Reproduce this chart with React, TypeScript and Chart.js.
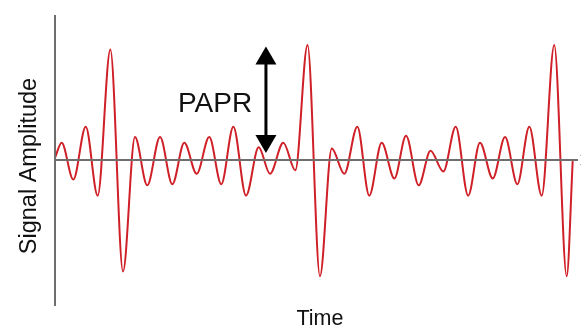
import React, { useEffect, useRef } from "react";
import { Chart, registerables } from "chart.js";

Chart.register(...registerables);

// Time positions of the waveform samples (arbitrary time units)
const timeValues: number[] = [
  0, 0.54, 1.49, 2.5, 3.47, 4.5, 5.53, 6.5, 7.5, 8.54, 9.54, 10.51, 11.52, 12.54,
  13.52, 14.5, 15.53, 16.56, 17.48, 18.56, 19.54, 20.53, 21.54, 22.5, 23.52, 24.58,
  25.55, 26.56, 27.59, 28.54, 29.57, 30.53, 31.57, 32.58, 33.59, 34.55, 35.59, 36.59,
  37.59, 38.56, 39.57, 40.59, 41.6, 42.09,
];

// Signal amplitude at those times (normalized, peak = 1)
const amplitudeValues: number[] = [
  0.02, 0.15, -0.17, 0.29, -0.31, 0.96, -0.97, 0.2, -0.22, 0.2, -0.21, 0.15, -0.12,
  0.2, -0.21, 0.29, -0.31, 0.11, -0.12, 0.15, -0.09, 1.0, -1.01, 0.1, -0.12, 0.29,
  -0.31, 0.15, -0.16, 0.21, -0.22, 0.08, -0.1, 0.29, -0.31, 0.15, -0.16, 0.2, -0.21,
  0.29, -0.31, 1.0, -1.01, -0.01,
];

const xAxisTitle = "Time";
const yAxisTitle = "Signal Amplitude";
const annotationLabel = "PAPR";

// Scale extents (data units)
const X_MIN = -4.4715;
const X_MAX = 42.764;
const Y_MIN = -1.4348;
const Y_MAX = 1.3913;

const W = 581;
const H = 325;

const decorPlugin = {
  id: "decor",
  afterDatasetsDraw(chart: any) {
    const ctx = chart.ctx as CanvasRenderingContext2D;
    const xs = chart.scales.x;
    const ys = chart.scales.y;
    const x0 = xs.getPixelForValue(0);
    const y0 = ys.getPixelForValue(0);
    ctx.save();
    // axes
    ctx.strokeStyle = "#6e6e6e";
    ctx.lineWidth = 2;
    ctx.beginPath();
    ctx.moveTo(x0, 15);
    ctx.lineTo(x0, 306);
    ctx.stroke();
    ctx.beginPath();
    ctx.moveTo(x0, y0);
    ctx.lineTo(578, y0);
    ctx.stroke();
    // tiny arrow head at right end (mostly off-canvas)
    ctx.lineWidth = 1;
    ctx.strokeStyle = "rgba(110,110,110,0.6)";
    ctx.beginPath();
    ctx.moveTo(586, y0);
    ctx.lineTo(580, y0 - 5);
    ctx.moveTo(586, y0);
    ctx.lineTo(580, y0 + 5);
    ctx.stroke();

    // PAPR double arrow
    const ax = xs.getPixelForValue(17.15);
    const topTip = ys.getPixelForValue(0.986);
    const botTip = ys.getPixelForValue(0.06);
    const headH = 18;
    const headW = 10.5;
    ctx.strokeStyle = "#000";
    ctx.fillStyle = "#000";
    ctx.lineWidth = 3;
    ctx.beginPath();
    ctx.moveTo(ax, topTip + headH - 2);
    ctx.lineTo(ax, botTip - headH + 2);
    ctx.stroke();
    ctx.beginPath();
    ctx.moveTo(ax, topTip);
    ctx.lineTo(ax - headW, topTip + headH);
    ctx.lineTo(ax + headW, topTip + headH);
    ctx.closePath();
    ctx.fill();
    ctx.beginPath();
    ctx.moveTo(ax, botTip);
    ctx.lineTo(ax - headW, botTip - headH);
    ctx.lineTo(ax + headW, botTip - headH);
    ctx.closePath();
    ctx.fill();

    // texts
    ctx.fillStyle = "#111";
    ctx.font = "28px 'Liberation Sans', Arial, sans-serif";
    ctx.textAlign = "left";
    ctx.textBaseline = "alphabetic";
    ctx.fillText(annotationLabel, 178, 111.5);

    ctx.font = "21.5px 'Liberation Sans', Arial, sans-serif";
    ctx.textAlign = "center";
    ctx.fillText(xAxisTitle, 320, 324.5);

    ctx.save();
    ctx.translate(36, 166);
    ctx.rotate(-Math.PI / 2);
    ctx.font = "23.5px 'Liberation Sans', Arial, sans-serif";
    ctx.textAlign = "center";
    ctx.fillText(yAxisTitle, 0, 0);
    ctx.restore();

    ctx.restore();
  },
};

export default function App() {
  const ref = useRef<HTMLCanvasElement | null>(null);
  useEffect(() => {
    if (!ref.current) return;
    const points = timeValues.map((t, i) => ({ x: t, y: amplitudeValues[i] }));
    const chart = new Chart(ref.current, {
      type: "line",
      data: {
        datasets: [
          {
            data: points,
            borderColor: "#cf1f27",
            borderWidth: 2,
            pointRadius: 0,
            fill: false,
            cubicInterpolationMode: "monotone",
          },
        ],
      },
      options: {
        animation: false,
        responsive: false,
        devicePixelRatio: 1,
        layout: { padding: 0 },
        plugins: { legend: { display: false }, tooltip: { enabled: false }, title: { display: false } },
        scales: {
          x: { type: "linear", display: false, min: X_MIN, max: X_MAX },
          y: { type: "linear", display: false, min: Y_MIN, max: Y_MAX },
        },
      },
      plugins: [decorPlugin],
    } as any);
    return () => chart.destroy();
  }, []);
  return (
    <div style={{ position: "fixed", left: 0, top: 0, width: W, height: H, background: "#fff" }}>
      <canvas ref={ref} width={W} height={H} style={{ width: W, height: H, display: "block" }} />
    </div>
  );
}
